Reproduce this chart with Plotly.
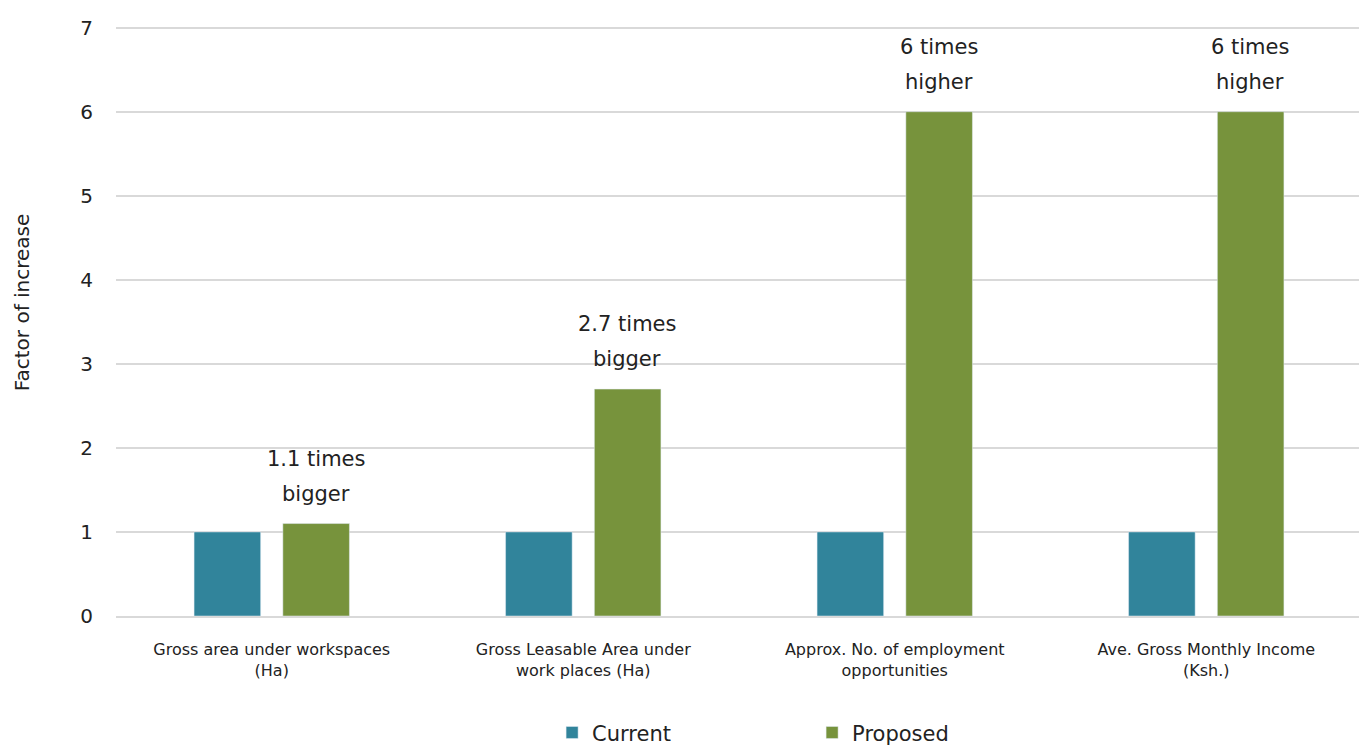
import plotly.graph_objects as go

# Categories and values (factor of increase, current = 1)
categories = [
    'Gross area under workspaces<br>(Ha)',
    'Gross Leasable Area under<br>work places (Ha)',
    'Approx. No. of employment<br>opportunities',
    'Ave. Gross Monthly Income<br>(Ksh.)',
]
current = [1, 1, 1, 1]
proposed = [1.1, 2.7, 6, 6]
label_top = ['1.1 times', '2.7 times', '6 times', '6 times']
label_bottom = ['bigger', 'bigger', 'higher', 'higher']

FONT = 'DejaVu Sans'
TEAL = '#31849B'
GREEN = '#77933C'

fig = go.Figure()
fig.add_trace(go.Bar(name='Current', x=categories, y=current, marker_color=TEAL))
fig.add_trace(go.Bar(name='Proposed', x=categories, y=proposed, marker_color=GREEN))

# Two-line labels above proposed bars
for cat, val, top, bottom in zip(categories, proposed, label_top, label_bottom):
    fig.add_annotation(x=cat, y=val, text=bottom, showarrow=False, xshift=44,
                       yshift=30, yanchor='middle', font=dict(family=FONT, size=21, color='#222'))
    fig.add_annotation(x=cat, y=val, text=top, showarrow=False, xshift=44,
                       yshift=65, yanchor='middle', font=dict(family=FONT, size=21, color='#222'))

# y-axis title as annotation
fig.add_annotation(text='Factor of increase', xref='paper', yref='paper', x=-0.0754, y=0.532,
                   textangle=-90, showarrow=False, xanchor='center', yanchor='middle',
                   font=dict(family=FONT, size=20, color='#222'))

fig.update_layout(
    width=1367, height=746,
    margin=dict(l=108, r=13, t=18, b=138, autoexpand=False),
    paper_bgcolor='white', plot_bgcolor='white',
    barmode='group', bargap=0.43, bargroupgap=0.25,
    font=dict(family=FONT, color='#222'),
    legend=dict(orientation='h', x=0.350, xanchor='left', y=-0.198, yanchor='middle',
                font=dict(size=21), entrywidth=215, itemwidth=30),
    xaxis=dict(tickfont=dict(size=16), showline=True, linecolor='#d9d9d9', linewidth=2,
               ticks='', ticklabelstandoff=18, automargin=False),
    yaxis=dict(range=[0, 7.02], tickvals=[0, 1, 2, 3, 4, 5, 6, 7], tickfont=dict(size=20),
               gridcolor='#d9d9d9', gridwidth=2, zeroline=False, ticks='',
               ticklabelstandoff=22, automargin=False),
)

fig.write_html('out.html')
